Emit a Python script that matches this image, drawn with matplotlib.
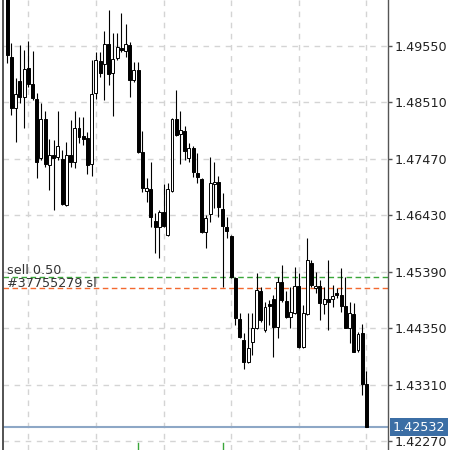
import matplotlib.pyplot as plt
import numpy as np

# Candles, oldest first (open, high, low, close)
opens = [
    1.50489, 1.49347, 1.48408, 1.48905, 1.48611, 1.49145, 1.48850, 1.48574, 1.47487, 1.48205,
    1.47358, 1.47542, 1.47506, 1.47469, 1.46622, 1.47542, 1.47413, 1.48040, 1.47892, 1.47855,
    1.47377, 1.48684, 1.49274, 1.49218, 1.49587, 1.49053, 1.49329, 1.49513, 1.49458, 1.49568,
    1.48924, 1.49108, 1.47598, 1.46879, 1.46916, 1.46327, 1.46216, 1.46493, 1.46069, 1.46879,
    1.48205, 1.47929, 1.47984, 1.47487, 1.47671, 1.47211, 1.47100, 1.46124, 1.46456, 1.47008,
    1.47045, 1.46548, 1.46216, 1.46051, 1.45277, 1.44522, 1.44136, 1.43730, 1.44098, 1.44356,
    1.45038, 1.44319, 1.44798, 1.44890, 1.44375, 1.45203, 1.44853, 1.44559, 1.44632, 1.45130,
    1.44006, 1.44614, 1.45553, 1.45093, 1.45130, 1.44798, 1.44890, 1.44890, 1.45001, 1.44964,
    1.44761, 1.44356, 1.44614, 1.43951, 1.44264, 1.43325,
]
highs = [
    1.50550, 1.49605, 1.48960, 1.49568, 1.49476, 1.49642, 1.49458, 1.48684, 1.48500, 1.48353,
    1.47837, 1.47818, 1.48353, 1.47634, 1.47782, 1.48187, 1.48353, 1.48242, 1.48242, 1.47966,
    1.49292, 1.49439, 1.49439, 1.49826, 1.50213, 1.49789, 1.49789, 1.50158, 1.49955, 1.49623,
    1.49255, 1.49255, 1.47984, 1.47119, 1.47413, 1.46474, 1.46529, 1.47008, 1.47027, 1.48224,
    1.48740, 1.48353, 1.48076, 1.47763, 1.47708, 1.47579, 1.47119, 1.46437, 1.47506, 1.47413,
    1.47156, 1.46843, 1.46401, 1.46069, 1.45295, 1.44632, 1.44264, 1.44632, 1.44632, 1.45369,
    1.45111, 1.44835, 1.44872, 1.44964, 1.45295, 1.45516, 1.45038, 1.45111, 1.45480, 1.45369,
    1.44780, 1.46014, 1.45609, 1.45388, 1.45240, 1.45111, 1.45609, 1.45148, 1.45093, 1.45461,
    1.45295, 1.44835, 1.44817, 1.44283, 1.44430, 1.43564,
]
lows = [
    1.49237, 1.48279, 1.47782, 1.48500, 1.48040, 1.48795, 1.48555, 1.47119, 1.47450, 1.47321,
    1.46898, 1.46529, 1.47450, 1.46622, 1.46603, 1.47321, 1.47303, 1.47763, 1.47727, 1.47192,
    1.47156, 1.48574, 1.48979, 1.48555, 1.48832, 1.48261, 1.49292, 1.49439, 1.49347, 1.48611,
    1.48887, 1.47579, 1.46861, 1.46677, 1.46216, 1.45737, 1.45645, 1.46216, 1.46051, 1.46861,
    1.47892, 1.47377, 1.47450, 1.47413, 1.47137, 1.47027, 1.46106, 1.45830, 1.46308, 1.46566,
    1.46401, 1.45111, 1.46014, 1.45277, 1.44411, 1.44172, 1.43601, 1.43712, 1.43859, 1.44338,
    1.44467, 1.44283, 1.44411, 1.43822, 1.44172, 1.44835, 1.44540, 1.44356, 1.44614, 1.43988,
    1.43988, 1.44596, 1.45111, 1.45001, 1.44504, 1.44614, 1.44319, 1.44743, 1.44909, 1.44651,
    1.44356, 1.44080, 1.43914, 1.43914, 1.43122, 1.42532,
]
closes = [
    1.49384, 1.48408, 1.48666, 1.48611, 1.49126, 1.48850, 1.48592, 1.47413, 1.48205, 1.47377,
    1.47542, 1.47487, 1.47708, 1.46640, 1.47542, 1.47413, 1.48040, 1.47874, 1.47837, 1.47358,
    1.48666, 1.49292, 1.49053, 1.49587, 1.49034, 1.49310, 1.49531, 1.49476, 1.49587, 1.48924,
    1.49108, 1.47598, 1.46935, 1.46935, 1.46401, 1.46216, 1.46493, 1.46235, 1.46916, 1.48205,
    1.47911, 1.48003, 1.47616, 1.47671, 1.47229, 1.47137, 1.46124, 1.46382, 1.47027, 1.47045,
    1.46585, 1.46235, 1.46143, 1.45295, 1.44540, 1.44190, 1.43730, 1.43988, 1.44356, 1.45056,
    1.44504, 1.44743, 1.44761, 1.44375, 1.45203, 1.44872, 1.44559, 1.44651, 1.45130, 1.44006,
    1.44632, 1.45609, 1.45148, 1.45130, 1.44817, 1.44890, 1.44835, 1.44946, 1.44964, 1.44761,
    1.44356, 1.44632, 1.43914, 1.44246, 1.43325, 1.42532,
]

# Price scale
price_ticks = [1.42270, 1.43310, 1.44350, 1.45390, 1.46430, 1.47470, 1.48510, 1.49550]
price_range = (1.42109, 1.50397)

# Bars carrying a vertical grid line
grid_bars = [5, 21, 37, 53, 69, 85]

# Order lines
sell_price = 1.45303
sl_price = 1.45087
sell_label = "sell 0.50"
sl_label = "#37755279 sl"
last_price = 1.42532

# Bars with a trade mark on the bottom edge
trade_bars = [31, 51]

fig = plt.figure(figsize=(4.5, 4.5), dpi=100)
ax = fig.add_axes([2.5 / 450, 0, 385.5 / 450, 1])

x = np.arange(len(opens))
o = np.array(opens)
c = np.array(closes)
up = c >= o

# Wicks
ax.vlines(x, lows, highs, color="black", linewidth=0.8, zorder=3)

# Bodies
bottom = np.minimum(o, c)
height = np.maximum(np.abs(c - o), 0.00004)
ax.bar(
    x,
    height,
    bottom=bottom,
    width=0.7,
    color=np.where(up, "white", "black"),
    edgecolor="black",
    linewidth=0.7,
    zorder=4,
)

# Order lines
ax.axhline(sell_price, color="#3aa63a", linestyle=(0, (4, 2.5)), linewidth=1.0, zorder=2)
ax.axhline(sl_price, color="#f4692f", linestyle=(0, (4, 2.5)), linewidth=1.0, zorder=2)
ax.text(-0.1, sell_price + 0.00050, sell_label, fontsize=9.2, color="#333333", va="baseline", ha="left")
ax.text(-0.1, sl_price + 0.00025, sl_label, fontsize=9.2, color="#333333", va="baseline", ha="left")

# Last price line and label
ax.axhline(last_price, color="#8da7c6", linewidth=1.5, zorder=2)
ax.annotate(
    f"{last_price:.5f}",
    xy=(1, last_price),
    xycoords=("axes fraction", "data"),
    xytext=(5, 0),
    textcoords="offset pixels",
    va="center",
    ha="left",
    fontsize=9.2,
    color="white",
    bbox=dict(boxstyle="square,pad=0.2", fc="#3b6ea5", ec="none"),
    annotation_clip=False,
)

# Trade marks
for b in trade_bars:
    ax.axvline(b, ymin=0, ymax=0.016, color="#3aa63a", linewidth=1.0)

# Customize
ax.set_xlim(-1.1, 90.1)
ax.set_ylim(*price_range)
ax.set_yticks(price_ticks)
ax.set_yticklabels([f"{p:.5f}" for p in price_ticks])
ax.yaxis.tick_right()
ax.tick_params(axis="y", length=3, width=1, color="#555555", labelsize=9.2, labelcolor="#222222", pad=2)
ax.set_xticks(grid_bars)
ax.tick_params(axis="x", bottom=False, labelbottom=False)
ax.grid(which="major", linestyle=(0, (4, 4)), color="#d4d4d4", linewidth=1.0, zorder=0)
ax.set_axisbelow(True)

ax.spines["top"].set_visible(False)
ax.spines["bottom"].set_visible(False)
ax.spines["left"].set_color("#444444")
ax.spines["left"].set_linewidth(1.3)
ax.spines["right"].set_color("#555555")
ax.spines["right"].set_linewidth(1.0)

plt.savefig("out.png", dpi=100)
